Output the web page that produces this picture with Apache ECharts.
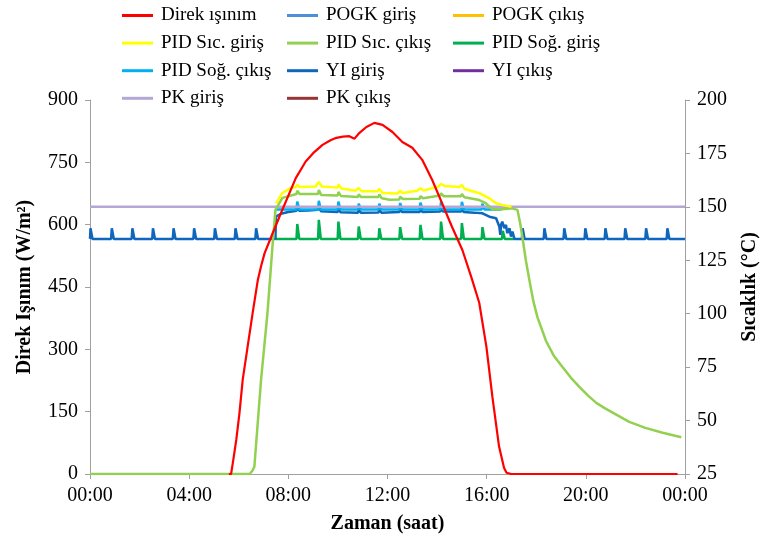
<!DOCTYPE html>
<html>
<head>
<meta charset="utf-8">
<script src="https://cdn.jsdelivr.net/npm/echarts@6/dist/echarts.min.js"></script>
<style>
  html, body { margin: 0; padding: 0; background: #fff; }
  #main { width: 760px; height: 543px; }
</style>
</head>
<body>
<div id="main"></div>
<script>
// saat (0-24) ve değerler
const xTicks = [0, 4, 8, 12, 16, 20, 24]

// Direk ışınım (W/m2)
const direkIsinim = [[5.6,0],[5.69,0],[5.76,26],[5.9,82],[6.03,147],[6.16,227],[6.36,307],[6.56,387],[6.77,467],
  [6.9,500],[7.04,531],[7.31,571],[7.64,619],[7.98,667],[8.3,712],[8.7,752],[9.0,772],[9.38,792],[9.7,803],[9.94,809],
  [10.2,812],[10.46,813],[10.67,807],[10.87,821],[11.15,835],[11.47,845],[11.8,840],[12.2,823],[12.6,799],
  [13.0,785],[13.4,756],[13.8,708],[14.2,652],[14.6,595],[15.02,539],[15.4,470],[15.7,412],[15.99,306],
  [16.23,186],[16.5,66],[16.7,15],[16.8,3],[17.0,0],[23.7,0]]

// sıcaklıklar (°C)
const pidSicGiris = [[7.51,151.7],[7.76,156.5],[8.04,158.5],[8.3,159.3],[8.36,160.3],[8.45,159.3],[9.1,159.5],
  [9.23,161.7],[9.35,159.5],[10.0,159.0],[10.02,160.5],[10.15,158.6],[10.7,157.5],[10.84,158.8],[10.95,157.3],
  [11.6,157.3],[11.67,158.5],[11.8,156.5],[12.4,156.2],[12.51,157.6],[12.6,156.5],[13.2,157.5],[13.33,158.7],
  [13.45,157.6],[14.05,159.5],[14.16,160.7],[14.3,159.8],[14.9,159.3],[15.0,160.3],[15.1,158.5],[15.7,156.4],
  [16.11,154],[16.38,151.7],[16.63,150.9],[17.0,150]]

const pidSicCikis = [[0,25],[6.44,25],[6.55,26.5],[6.63,28.4],[6.9,69.1],[7.16,100.5],[7.36,131.5],[7.48,148.6],[7.76,154.2],
  [8.33,156],[8.36,157.5],[8.45,156],[9.2,156],[9.23,157.9],[9.33,155.5],[9.99,155.3],[10.02,157],[10.12,155.1],
  [10.81,154.6],[10.84,155.8],[10.94,154.6],[11.64,154.6],[11.67,155.8],[11.77,154],[12.08,153.3],[12.48,153.5],
  [12.51,154.8],[12.61,153.7],[13.3,153.8],[13.33,155],[13.43,154],[14.13,155.3],[14.16,156.4],[14.26,155],
  [14.97,155],[15.0,156],[15.1,154.5],[15.7,153.2],[15.96,151.7],[16.23,148.9],[16.63,148.9],[17.03,149.3],
  [17.24,148.6],[17.34,143],[17.44,136],[17.58,125],[17.72,115.9],[17.88,106],[18.05,98.3],[18.4,87.1],
  [18.7,80.5],[19.05,75.2],[19.4,70],[19.74,65.8],[20.08,61.8],[20.42,58.3],[20.76,55.8],[21.1,53.6],
  [21.75,49.4],[22.4,46.6],[23.1,44.3],[23.85,42.2]]

const pidSogGiris = [[7.5,135],[8.33,135],[8.36,142],[8.44,135],[9.2,135],[9.23,143.9],[9.31,135],[9.99,135],
  [10.02,143.1],[10.1,135],[10.81,135],[10.84,140.8],[10.92,135],[11.64,135],[11.67,140],[11.75,135],[12.48,135],
  [12.51,140.5],[12.59,135],[13.3,135],[13.33,141.6],[13.41,135],[14.13,135],[14.16,143.1],[14.24,135],[14.97,135],
  [15.0,142.4],[15.08,135],[15.8,135],[15.83,140.5],[15.91,135],[16.62,135],[16.65,138.8],[16.73,135],[17.1,135]]

const pidSogCikis = [[7.5,148.8],[8.33,148.8],[8.36,152.5],[8.44,148.8],[9.2,148.8],[9.23,152.8],[9.31,148.8],
  [9.99,148.8],[10.02,152.5],[10.1,148.8],[10.81,148.8],[10.84,151.5],[10.92,148.8],[11.64,148.8],[11.67,151.5],
  [11.75,148.8],[12.48,148.8],[12.51,151.8],[12.59,148.8],[13.3,148.8],[13.33,152],[13.41,148.8],[14.13,148.8],
  [14.16,152.5],[14.24,148.8],[14.97,148.8],[15.0,152.3],[15.08,148.8],[15.8,148.8],[15.83,151.5],[15.91,148.8],
  [16.6,148.8]]

const yiGiris = [[0,135],[0.02,140],[0.1,135],[0.85,135],[0.88,140],[0.96,135],[1.68,135],[1.71,140],[1.79,135],
  [2.51,135],[2.54,140],[2.62,135],[3.34,135],[3.37,140],[3.45,135],[4.17,135],[4.2,140],[4.28,135],
  [5.01,135],[5.04,140],[5.12,135],[5.84,135],[5.87,140],[5.95,135],[6.67,135],[6.7,140],[6.78,135],
  [7.48,135],[7.5,145.4],[7.7,146.8],[8.0,147.6],[8.33,148.2],[8.36,150],[8.44,148.2],[8.8,148.3],[9.2,148.6],
  [9.23,150.3],[9.31,148],[9.99,147.6],[10.02,149.5],[10.1,147.5],[10.81,147.3],[10.84,148.8],[10.92,147.3],
  [11.64,147.4],[11.67,148.8],[11.75,147.3],[12.48,147.6],[12.51,149],[12.59,147.6],[13.3,147.6],[13.33,149],
  [13.41,147.6],[14.13,147.8],[14.16,149.3],[14.24,147.8],[14.97,147.8],[15.0,149],[15.08,147.6],[15.5,147.3],
  [15.83,147],[16.11,145.4],[16.38,144.7],[16.43,145.5],[16.51,140.8],[16.55,136.9],[16.58,141.6],[16.63,143.1],
  [16.71,140],[16.78,141.6],[16.83,137.7],[16.92,140],[16.98,136.1],[17.04,138.4],[17.12,135],
  [17.42,135],[17.45,140],[17.53,135],[18.3,135],[18.33,140],[18.41,135],[19.1,135],[19.13,140],[19.21,135],
  [19.95,135],[19.98,140],[20.06,135],[20.76,135],[20.79,140],[20.87,135],[21.56,135],[21.59,140],[21.67,135],
  [22.4,135],[22.43,140],[22.51,135],[23.26,135],[23.29,140],[23.37,135],[24,135]]

const pkGiris = [[0,150],[24,150]]

// grafikte görünmeyen seriler
const pogkGiris = []
const pogkCikis = []
const yiCikis = []
const pkCikis = []

const serif = 'Liberation Serif'
const axisGray = '#a0a0a0'

function line(name, data, color, axis, width) {
  return {
    name: name,
    type: 'line',
    yAxisIndex: axis,
    data: data,
    symbol: 'none',
    showSymbol: false,
    color: color,
    lineStyle: { width: width || 2.5, color: color }
  }
}

function legendCol(left, names) {
  return {
    orient: 'vertical',
    left: left,
    top: 6,
    padding: 0,
    icon: 'rect',
    itemWidth: 31,
    itemHeight: 3,
    itemGap: 8.6,
    data: names,
    textStyle: { fontFamily: serif, fontSize: 19, color: '#000', lineHeight: 19, padding: [0, 0, 0, 3] }
  }
}

const chart = echarts.init(document.getElementById('main'))
const option = {
  backgroundColor: '#fff',
  animation: false,
  legend: [
    legendCol(122, ['Direk ışınım', 'PID Sıc. giriş', 'PID Soğ. çıkış', 'PK giriş']),
    legendCol(287, ['POGK giriş', 'PID Sıc. çıkış', 'YI giriş', 'PK çıkış']),
    legendCol(453, ['POGK çıkış', 'PID Soğ. giriş', 'YI çıkış'])
  ],
  grid: { left: 90, right: 75, top: 100, bottom: 69, outerBoundsMode: 'none' },
  xAxis: {
    type: 'value',
    min: 0,
    max: 24,
    interval: 4,
    name: 'Zaman (saat)',
    nameLocation: 'middle',
    nameGap: 40,
    nameTextStyle: { fontFamily: serif, fontSize: 20, fontWeight: 'bold', color: '#000' },
    splitLine: { show: false },
    axisLine: { lineStyle: { color: axisGray } },
    axisTick: { show: true, length: 5, lineStyle: { color: axisGray } },
    axisLabel: {
      margin: 12,
      fontFamily: serif, fontSize: 20, color: '#000',
      formatter: function (v) {
        const h = v % 24
        return (h < 10 ? '0' : '') + h + ':00'
      }
    },
    data: xTicks
  },
  yAxis: [
    {
      type: 'value',
      min: 0,
      max: 900,
      interval: 150,
      name: 'Direk Işınım (W/m²)',
      nameLocation: 'middle',
      nameRotate: 90,
      nameGap: 55,
      nameTextStyle: { fontFamily: serif, fontSize: 20, fontWeight: 'bold', color: '#000' },
      splitLine: { show: false },
      axisLine: { show: true, lineStyle: { color: axisGray } },
      axisTick: { show: true, length: 5, lineStyle: { color: axisGray } },
      axisLabel: { margin: 12, fontFamily: serif, fontSize: 20, color: '#000' }
    },
    {
      type: 'value',
      position: 'right',
      min: 25,
      max: 200,
      interval: 25,
      name: 'Sıcaklık (°C)',
      nameLocation: 'middle',
      nameRotate: 90,
      nameGap: 55,
      nameTextStyle: { fontFamily: serif, fontSize: 20, fontWeight: 'bold', color: '#000' },
      splitLine: { show: false },
      axisLine: { show: true, lineStyle: { color: axisGray } },
      axisTick: { show: true, length: 5, lineStyle: { color: axisGray } },
      axisLabel: { margin: 12, fontFamily: serif, fontSize: 20, color: '#000' }
    }
  ],
  // çizim sırası: alttan üste
  series: [
    line('POGK giriş', pogkGiris, '#4a8fd8', 1),
    line('POGK çıkış', pogkCikis, '#ffc000', 1),
    line('YI çıkış', yiCikis, '#7030a0', 1),
    line('PK çıkış', pkCikis, '#963634', 1),
    line('PID Soğ. giriş', pidSogGiris, '#00b050', 1),
    line('YI giriş', yiGiris, '#0f66bd', 1),
    line('PID Soğ. çıkış', pidSogCikis, '#00b0f0', 1),
    line('PK giriş', pkGiris, '#b4a7d6', 1),
    line('PID Sıc. çıkış', pidSicCikis, '#92d050', 1),
    line('PID Sıc. giriş', pidSicGiris, '#ffff00', 1),
    line('Direk ışınım', direkIsinim, '#ff0000', 0, 2.2)
  ]
}
chart.setOption(option)
</script>
</body>
</html>
